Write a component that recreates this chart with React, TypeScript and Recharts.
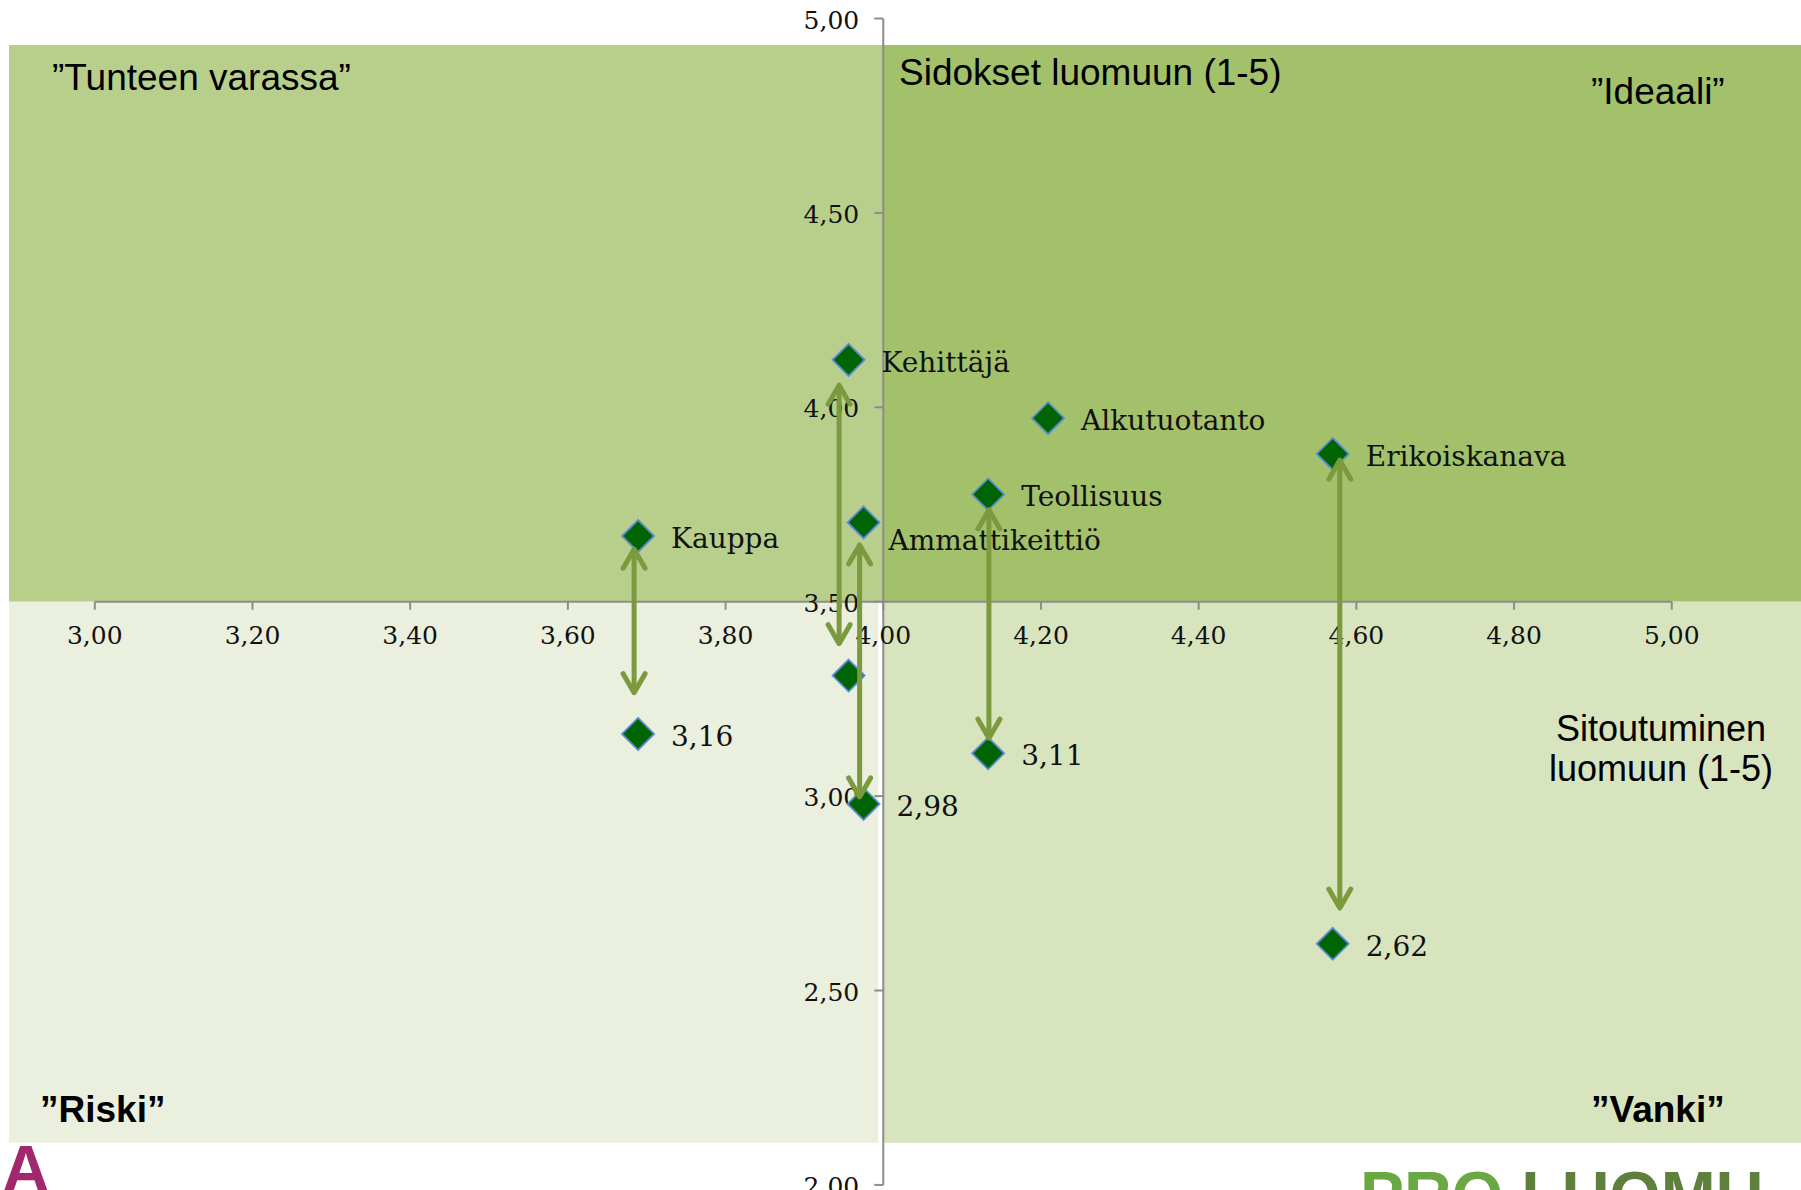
import React from "react";
import { ScatterChart, Scatter, XAxis, YAxis, ReferenceArea, ReferenceLine } from "recharts";

const W = 1801;
const H = 1190;

// x = Sitoutuminen luomuun (1-5), y = Sidokset luomuun (1-5)
const categories = ["Kauppa", "Kehittäjä", "Ammattikeittiö", "Teollisuus", "Alkutuotanto", "Erikoiskanava"];
const commitment = [3.689, 3.956, 3.975, 4.133, 4.209, 4.57];
const ties = [3.669, 4.122, 3.704, 3.776, 3.972, 3.88];
const tiesLater = [3.16, 3.31, 2.98, 3.11, null, 2.62];
const laterLabelShown = [true, false, true, true, false, true];

// arrows drawn between the two values of a group
const arrowX = [3.684, 3.944, 3.97, 4.134, null, 4.579];
const arrowTop = [3.635, 4.057, 3.646, 3.736, null, 3.864];
const arrowBottom = [3.266, 3.392, 2.998, 3.149, null, 2.712];

const xTicks = [3, 3.2, 3.4, 3.6, 3.8, 4, 4.2, 4.4, 4.6, 4.8, 5];
const yTicks = [2, 2.5, 3, 3.5, 4, 4.5, 5];

// axes cross here, quadrants split here too
const X_CROSS = 4;
const Y_CROSS = 3.5;

const X_DOMAIN = [2.8798, 5.1639];
const Y_DOMAIN = [1.9869, 5.0476];
const BG_LEFT = 2.8912;
const BG_TOP = 4.9319;
const BG_BOTTOM = 2.1086;
const BG_GAP = 3.9937;

const AXIS = "#8c8c8c";
const ARROW = "#7b9a3e";
const SERIF = "DejaVu Serif";
const SANS = "Liberation Sans";

const fmt = (v: number) => v.toFixed(2).replace(".", ",");

const upperPoints = categories.map((name, i) => ({ x: commitment[i], y: ties[i], label: name, upper: true }));
const lowerPoints = categories
  .map((name, i) => ({
    x: commitment[i],
    y: tiesLater[i],
    label: laterLabelShown[i] && tiesLater[i] != null ? fmt(tiesLater[i] as number) : "",
    upper: false,
  }))
  .filter((p) => p.y != null);

const arrows = categories
  .map((name, i) =>
    arrowX[i] == null
      ? null
      : [
          { x: arrowX[i], y: arrowTop[i], head: "up" },
          { x: arrowX[i], y: arrowBottom[i], head: "down" },
        ]
  )
  .filter(Boolean) as { x: number; y: number; head: string }[][];

const xTickData = xTicks.map((v) => ({ x: v, y: Y_CROSS }));
const yTickData = yTicks.map((v) => ({ x: X_CROSS, y: v }));

// Ammattikeittiö label sits lower, as in the original
const labelShift: Record<string, [number, number]> = { Ammattikeittiö: [25, 28] };

const Diamond = (props: any) => {
  const { cx, cy, payload } = props;
  const r = 16;
  const [dx, dy] = (payload.upper && labelShift[payload.label]) || [33, 12];
  return (
    <g>
      <polygon
        points={`${cx},${cy - r} ${cx + r},${cy} ${cx},${cy + r} ${cx - r},${cy}`}
        fill="#006400"
        stroke="#5b8bd0"
        strokeWidth={1.8}
      />
      {payload.label ? (
        <text x={cx + dx} y={cy + dy} fontFamily={SERIF} fontSize={28} fill="#111">
          {payload.label}
        </text>
      ) : null}
    </g>
  );
};

const ArrowHead = (props: any) => {
  const { cx, cy, payload } = props;
  const s = payload.head === "up" ? 1 : -1;
  return (
    <polyline
      points={`${cx - 11},${cy + s * 19} ${cx},${cy} ${cx + 11},${cy + s * 19}`}
      fill="none"
      stroke={ARROW}
      strokeWidth={5}
      strokeLinecap="round"
      strokeLinejoin="round"
    />
  );
};

const XTick = (props: any) => {
  const { cx, cy, payload } = props;
  return (
    <g>
      <line x1={cx} y1={cy} x2={cx} y2={cy + 8} stroke={AXIS} strokeWidth={2} />
      <text x={cx} y={cy + 42} textAnchor="middle" fontFamily={SERIF} fontSize={25} fill="#111">
        {fmt(payload.x)}
      </text>
    </g>
  );
};

const YTick = (props: any) => {
  const { cx, cy, payload } = props;
  return (
    <g>
      <line x1={cx - 9} y1={cy} x2={cx} y2={cy} stroke={AXIS} strokeWidth={2} />
      <text x={cx - 24} y={cy + 10} textAnchor="end" fontFamily={SERIF} fontSize={25} fill="#111">
        {fmt(payload.y)}
      </text>
    </g>
  );
};

export default function App() {
  return (
    <div style={{ position: "absolute", left: 0, top: 0, width: W, height: H, overflow: "hidden", background: "#fff" }}>
      <ScatterChart width={W} height={H} margin={{ top: 0, right: 0, bottom: 0, left: 0 }}>
        <XAxis type="number" dataKey="x" domain={X_DOMAIN} allowDataOverflow hide />
        <YAxis type="number" dataKey="y" domain={Y_DOMAIN} allowDataOverflow hide />

        <ReferenceArea x1={BG_LEFT} x2={X_CROSS} y1={Y_CROSS} y2={BG_TOP} fill="#b8cf8b" fillOpacity={1} />
        <ReferenceArea x1={X_CROSS} x2={X_DOMAIN[1]} y1={Y_CROSS} y2={BG_TOP} fill="#a3c16b" fillOpacity={1} />
        <ReferenceArea x1={BG_LEFT} x2={BG_GAP} y1={BG_BOTTOM} y2={Y_CROSS} fill="#ebefdd" fillOpacity={1} />
        <ReferenceArea x1={X_CROSS} x2={X_DOMAIN[1]} y1={BG_BOTTOM} y2={Y_CROSS} fill="#d8e4be" fillOpacity={1} />

        <ReferenceLine
          segment={[{ x: xTicks[0], y: Y_CROSS }, { x: xTicks[xTicks.length - 1], y: Y_CROSS }]}
          stroke={AXIS}
          strokeWidth={2}
        />
        <ReferenceLine
          segment={[{ x: X_CROSS, y: yTicks[0] }, { x: X_CROSS, y: yTicks[yTicks.length - 1] }]}
          stroke={AXIS}
          strokeWidth={2}
        />

        <Scatter data={xTickData} shape={<XTick />} isAnimationActive={false} />
        <Scatter data={yTickData} shape={<YTick />} isAnimationActive={false} />

        <Scatter data={lowerPoints} shape={<Diamond />} isAnimationActive={false} />
        <Scatter data={upperPoints} shape={<Diamond />} isAnimationActive={false} />

        {arrows.map((a, i) => (
          <Scatter
            key={`arrow-${i}`}
            data={a}
            fill={ARROW}
            line={{ stroke: ARROW, strokeWidth: 5 }}
            shape={<ArrowHead />}
            isAnimationActive={false}
          />
        ))}
      </ScatterChart>

      <svg width={W} height={H} style={{ position: "absolute", left: 0, top: 0, pointerEvents: "none" }}>
        <g fontFamily={SANS} fill="#000">
          <text x={52} y={90} fontSize={37}>”Tunteen varassa”</text>
          <text x={899} y={85} fontSize={37}>Sidokset luomuun (1-5)</text>
          <text x={1591} y={104} fontSize={37}>”Ideaali”</text>
          <text x={40} y={1122} fontSize={37} fontWeight="bold">”Riski”</text>
          <text x={1591} y={1122} fontSize={37} fontWeight="bold">”Vanki”</text>
          <text x={1661} y={741} fontSize={36} textAnchor="middle">Sitoutuminen</text>
          <text x={1661} y={781} fontSize={36} textAnchor="middle">luomuun (1-5)</text>
        </g>
        <text x={2} y={1192} fontFamily={SANS} fontWeight="bold" fontSize={66} fill="#a2286e">A</text>
        <text x={1360} y={1218} fontFamily={SANS} fontWeight="bold" fontSize={66}>
          <tspan fill="#6aa843">PRO </tspan>
          <tspan fill="#5f7f3c">LUOMU</tspan>
        </text>
      </svg>
    </div>
  );
}
